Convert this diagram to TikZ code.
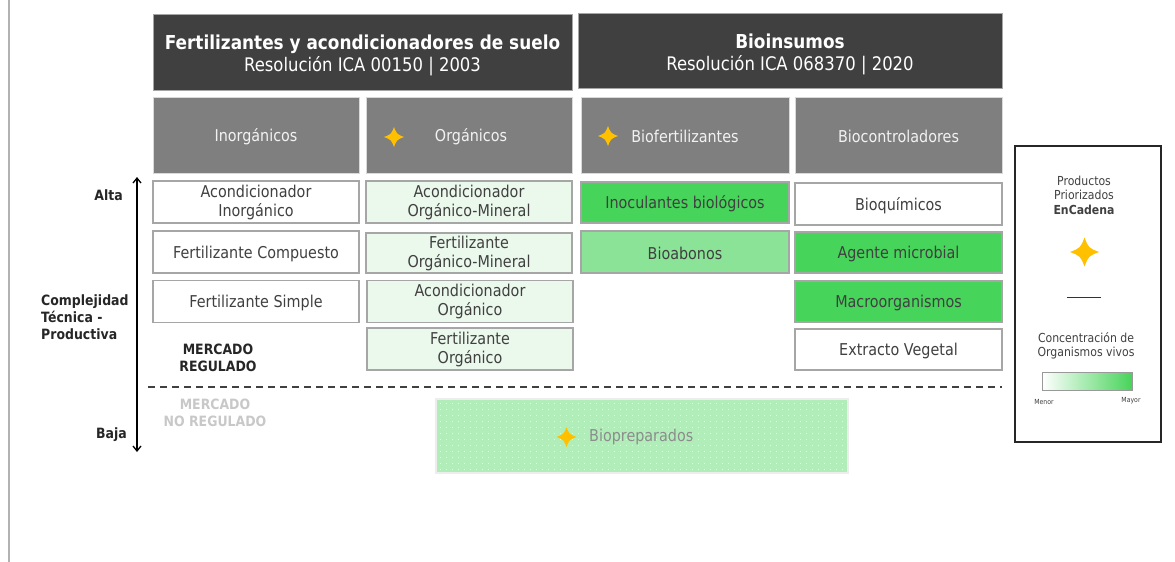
\documentclass[tikz,border=0pt]{standalone}
\usepackage{fontspec}
\setmainfont{DejaVu Sans}[FakeStretch=0.88]
\usetikzlibrary{arrows.meta,patterns.meta}
\definecolor{hdr}{HTML}{404040}
\definecolor{sub}{HTML}{7F7F7F}
\definecolor{txt}{HTML}{404040}
\definecolor{cellb}{HTML}{A6A6A6}
\definecolor{lgreen}{HTML}{EBF8EC}
\definecolor{green}{HTML}{47D45A}
\definecolor{mgreen}{HTML}{8AE396}
\definecolor{bgreen}{HTML}{B1EDB9}
\definecolor{gold}{HTML}{FFC000}
\definecolor{nrgray}{HTML}{C8C8C8}
\tikzdeclarepattern{
  name=sparsedots,
  type=uncolored,
  bottom left={(0pt,0pt)},
  top right={(6pt,6pt)},
  tile size={(6pt,6pt)},
  code={\fill (3pt,3pt) circle (0.6pt);}
}
\tikzset{
  header/.style={fill=hdr, draw=cellb, line width=0.6pt, text=white, align=center, inner sep=0pt,
    font=\fontsize{18.7}{22}\selectfont},
  subhdr/.style={fill=sub, draw=white!85!black, line width=0.6pt, text=white!95!black, inner sep=0pt,
    minimum height=76pt, font=\fontsize{16.3}{19}\selectfont, execute at begin node={\rule{0pt}{16pt}}},
  cell/.style={draw=cellb, line width=1.1pt, fill=white, text=txt, align=center, inner sep=0pt,
    minimum height=42pt, font=\fontsize{16.3}{19}\selectfont, execute at begin node={\rule{0pt}{16pt}}},
  orgcell/.style={cell, fill=lgreen},
  greencell/.style={cell, fill=green},
  midcell/.style={cell, fill=mgreen},
  sidelabel/.style={font=\bfseries\fontsize{14.2}{17}\selectfont, text=black!85, inner sep=0pt},
  gstar/.pic={
    \fill[gold] (0,-1) .. controls (0.28,-0.28) .. (1,0) .. controls (0.28,0.28) .. (0,1)
      .. controls (-0.28,0.28) .. (-1,0) .. controls (-0.28,-0.28) .. (0,-1) -- cycle;
  }
}
\begin{document}
\begin{tikzpicture}[x=1pt,y=-1pt]
\useasboundingbox (0,0) rectangle (1175,562);
% left page rule
\draw[line width=1.5pt, black!30] (9,0) -- (9,562);

% headers
\node[header, minimum width=419pt, minimum height=76pt] (h1) at (362.5,52)
  {\rule{0pt}{22pt}{\bfseries\fontsize{19.2}{22}\selectfont Fertilizantes y acondicionadores de suelo}\\Resolución ICA 00150 | 2003};
\node[header, minimum width=424pt, minimum height=75pt] (h2) at (790,50.5)
  {\rule{0pt}{22pt}{\bfseries\fontsize{19.2}{22}\selectfont Bioinsumos}\\Resolución ICA 068370 | 2020};

% sub headers
\node[subhdr, minimum width=206pt] (s1) at (256,135) {Inorgánicos};
\node[subhdr, minimum width=206pt] (s2) at (469,135) {\hspace*{4pt}Orgánicos};
\node[subhdr, minimum width=208pt] (s3) at (685,135) {Biofertilizantes};
\node[subhdr, minimum width=207pt] (s4) at (898.5,135) {Biocontroladores};
\pic[scale=10] at (394,137) {gstar};
\pic[scale=10] at (608,136) {gstar};

% column 1
\node[cell, minimum width=206pt] (c11) at (256,202) {Acondicionador\\Inorgánico};
\node[cell, minimum width=206pt] (c12) at (256,252) {Fertilizante Compuesto};
\node[cell, minimum width=206pt] (c13) at (256,301.5) {Fertilizante Simple};

% column 2
\node[orgcell, minimum width=206pt] (c21) at (469,202) {Acondicionador\\Orgánico-Mineral};
\node[orgcell, minimum width=206pt, minimum height=40pt] (c22) at (469,253) {Fertilizante\\Orgánico-Mineral};
\node[orgcell, minimum width=206pt] (c23) at (470,301.5) {Acondicionador\\Orgánico};
\node[orgcell, minimum width=206pt] (c24) at (470,349) {Fertilizante\\Orgánico};

% column 3
\node[greencell, minimum width=208pt, minimum height=41pt] (c31) at (685,202.5) {Inoculantes biológicos};
\node[midcell, minimum width=208pt] (c32) at (685,252) {Bioabonos};

% column 4
\node[cell, minimum width=207pt] (c41) at (898.5,204) {Bioquímicos};
\node[greencell, minimum width=207pt, minimum height=41pt] (c42) at (898.5,252.5) {Agente microbial};
\node[greencell, minimum width=207pt, minimum height=41pt] (c43) at (898.5,301.5) {Macroorganismos};
\node[cell, minimum width=207pt, minimum height=41pt] (c44) at (898.5,349.5) {Extracto Vegetal};

% axis
\coordinate (atop) at (137,177);
\coordinate (abot) at (137,452);
\draw[line width=1.3pt, {Straight Barb[length=5pt,width=8pt]}-{Straight Barb[length=5pt,width=8pt]}] (atop) -- (abot);
\node[sidelabel, anchor=east] (alta) at (123,195) {Alta};
\node[sidelabel, anchor=east] (baja) at (127,435) {Baja};
\node[sidelabel, anchor=west, align=left] (cplx) at (41,317) {Complejidad\\Técnica -\\Productiva};
\node[sidelabel, align=center] (mreg) at (218,358) {MERCADO\\REGULADO};
\node[sidelabel, align=center, text=nrgray] (mnoreg) at (215,413) {MERCADO\\NO REGULADO};

% dashed separator
\coordinate (dl) at (148,387);
\coordinate (dr) at (1002,387);
\draw[line width=1.4pt, hdr, dash pattern=on 7pt off 5pt] (dl) -- (dr);

% biopreparados
\node[draw=black!7, line width=1.2pt, minimum width=412pt, minimum height=74pt, inner sep=0pt,
  preaction={fill=bgreen}, pattern=sparsedots, pattern color=white!80!bgreen] (bio) at (642,436) {};
\node[text=black!45, font=\fontsize{16.3}{19}\selectfont, anchor=west, inner sep=0pt] (biot) at (589,437) {Biopreparados};
\pic[scale=10] at (566.5,437) {gstar};

% legend
\node[draw=black!85, line width=1.6pt, minimum width=146pt, minimum height=296pt, inner sep=0pt] (leg) at (1088,294) {};
\node[text=txt, align=center, font=\fontsize{12.4}{14.5}\selectfont, inner sep=0pt] (legt) at (1084,195)
  {Productos\\Priorizados\\{\bfseries EnCadena}};
\pic[scale=14.5] at (1084.5,252) {gstar};
\coordinate (ll) at (1067,297);
\coordinate (lr) at (1101,297);
\draw[line width=1pt, black!80] (ll) -- (lr);
\node[text=txt, align=center, font=\fontsize{12.4}{14}\selectfont, inner sep=0pt] (legc) at (1086,346)
  {Concentración de\\Organismos vivos};
\node[draw=black!40, line width=0.8pt, minimum width=90pt, minimum height=18pt, inner sep=0pt,
  left color=white, right color=green] (grad) at (1087,381) {};
\node[text=txt, font=\fontsize{7}{8}\selectfont, inner sep=0pt] (menor) at (1044,402) {Menor};
\node[text=txt, font=\fontsize{7}{8}\selectfont, inner sep=0pt] (mayor) at (1131,401) {Mayor};
\end{tikzpicture}
\end{document}
